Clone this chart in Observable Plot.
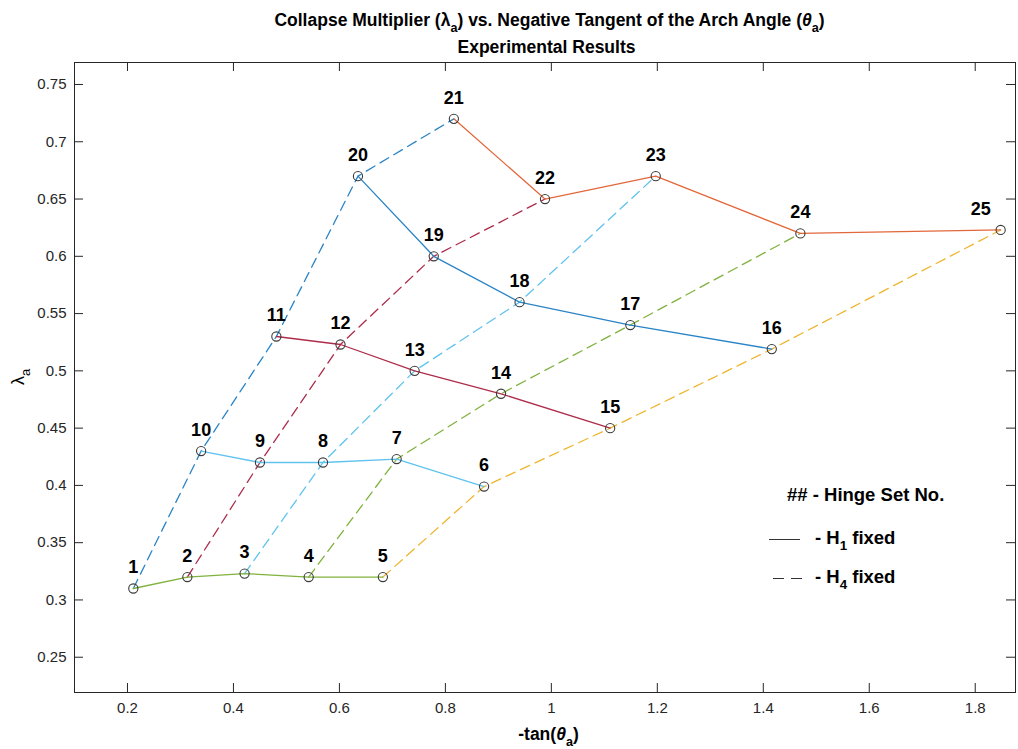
<!DOCTYPE html>
<html>
<head>
<meta charset="utf-8">
<script src="https://cdn.jsdelivr.net/npm/d3@7"></script>
<script src="https://cdn.jsdelivr.net/npm/@observablehq/plot@0.6"></script>
<style>
  body { margin: 0; background: #fff; }
  #chart { width: 1018px; height: 749px; }
</style>
</head>
<body>
<div id="chart"></div>
<script>
// ---- Data ----
const hingeSets = [1, 2, 3, 4, 5, 6, 7, 8, 9, 10, 11, 12, 13, 14, 15, 16, 17, 18, 19, 20, 21, 22, 23, 24, 25];
const negTanTheta = [0.211, 0.313, 0.421, 0.542, 0.682, 0.873, 0.708, 0.569, 0.450, 0.339,
                     0.481, 0.602, 0.742, 0.905, 1.111, 1.416, 1.149, 0.940, 0.778, 0.635,
                     0.816, 0.988, 1.197, 1.470, 1.848];
const lambdaA = [0.310, 0.320, 0.323, 0.320, 0.320, 0.399, 0.423, 0.420, 0.420, 0.430,
                 0.530, 0.523, 0.500, 0.480, 0.450, 0.519, 0.540, 0.560, 0.600, 0.670,
                 0.720, 0.650, 0.670, 0.620, 0.623];

// H1 fixed (solid) series, by hinge set number
const solidSeries = [[1, 2, 3, 4, 5], [10, 9, 8, 7, 6], [11, 12, 13, 14, 15], [20, 19, 18, 17, 16], [21, 22, 23, 24, 25]];
const solidColors = ["#80b23e", "#5fc3ee", "#ad2c4a", "#2a84c6", "#e2673a"];
// H4 fixed (dashed) series
const dashedSeries = [[1, 10, 11, 20, 21], [2, 9, 12, 19, 22], [3, 8, 13, 18, 23], [4, 7, 14, 17, 24], [5, 6, 15, 16, 25]];
const dashedColors = ["#2a84c6", "#ad2c4a", "#5fc3ee", "#80b23e", "#eeb52e"];

const xTicks = [0.2, 0.4, 0.6, 0.8, 1.0, 1.2, 1.4, 1.6, 1.8];
const yTicks = [0.25, 0.3, 0.35, 0.4, 0.45, 0.5, 0.55, 0.6, 0.65, 0.7, 0.75];

// ---- Layout ----
const W = 1018, H = 749, mL = 74, mR = 3, mT = 62, mB = 57;
const fW = W - mL - mR, fH = H - mT - mB;
const FONT = "'Liberation Sans', Arial, Helvetica, sans-serif";
const AX = "#262626";
const TICK = 9;

const pts = hingeSets.map((n, i) => ({n, x: negTanTheta[i], y: lambdaA[i]}));
const byN = new Map(pts.map(p => [p.n, p]));
const fmt = d => String(+d.toFixed(2));

const lineMarks = (groups, colors, dash) =>
  groups.map((g, i) => Plot.line(g.map(n => byN.get(n)), {
    x: "x", y: "y", stroke: colors[i], strokeWidth: 1.3, strokeDasharray: dash
  }));

const svg = Plot.plot({
  width: W, height: H,
  marginLeft: mL, marginRight: mR, marginTop: mT, marginBottom: mB,
  style: {fontFamily: FONT, background: "#fff", color: AX, overflow: "visible"},
  x: {domain: [0.1, 1.876]},
  y: {domain: [0.2192, 0.7692]},
  marks: [
    ...lineMarks(dashedSeries, dashedColors, "10,6"),
    ...lineMarks(solidSeries, solidColors, null),
    Plot.dot(pts, {x: "x", y: "y", r: 4.6, stroke: "#3a3a3a", strokeWidth: 1.1, fill: "none"}),
    Plot.text(pts.filter(p => p.n !== 25), {x: "x", y: "y", text: d => String(d.n), dy: -21,
      fontSize: 18, fontWeight: "bold", fill: "#000"}),
    Plot.text(pts.filter(p => p.n === 25), {x: "x", y: "y", text: d => String(d.n), dy: -21, dx: -20,
      fontSize: 18, fontWeight: "bold", fill: "#000"}),
    Plot.frame({stroke: AX, strokeWidth: 1}),
    Plot.tickX(xTicks, {insetTop: fH - TICK, stroke: AX}),
    Plot.tickX(xTicks, {insetBottom: fH - TICK, stroke: AX}),
    Plot.tickY(yTicks, {insetRight: fW - TICK, stroke: AX}),
    Plot.tickY(yTicks, {insetLeft: fW - TICK, stroke: AX}),
    Plot.axisX({ticks: xTicks, tickSize: 0, tickPadding: 10, tickFormat: fmt, fontSize: 15, label: null}),
    Plot.axisY({ticks: yTicks, tickSize: 0, tickPadding: 8, tickFormat: fmt, fontSize: 15, label: null})
  ]
});

// ---- Rich text annotations (titles, axis labels, legend) ----
// parts: [string, isSubscript, isItalic]
const s = d3.select(svg);
function richText(x, y, parts, {size = 17, weight = "bold", anchor = "middle", rotate = 0, fill = "#000"} = {}) {
  const t = s.append("text")
    .attr("x", x).attr("y", y)
    .attr("text-anchor", anchor)
    .attr("font-family", FONT)
    .attr("font-size", size)
    .attr("font-weight", weight)
    .attr("fill", fill);
  if (rotate) t.attr("transform", `rotate(${rotate},${x},${y})`);
  let shifted = 0;
  parts.forEach(([str, sub, ital]) => {
    const sp = t.append("tspan").text(str);
    if (ital) sp.attr("font-style", "italic");
    if (sub && !shifted) { sp.attr("dy", size * 0.32).attr("font-size", size * 0.72); shifted = 1; }
    else if (!sub && shifted) { sp.attr("dy", -size * 0.32); shifted = 0; }
    else if (sub) sp.attr("font-size", size * 0.72);
  });
  return t;
}
const cx = mL + fW / 2;
richText(cx + 5, 26, [["Collapse Multiplier (λ"], ["a", true], [") vs. Negative Tangent of the Arch Angle ("], ["θ", false, true], ["a", true], [")"]], {size: 17.5});
richText(cx + 2, 53, [["Experimental Results"]], {size: 17.5});
richText(cx + 4, 740, [["-tan("], ["θ", false, true], ["a", true], [")"]], {size: 17.5});
richText(24, mT + fH / 2, [["λ"], ["a", true]], {size: 18, weight: "normal", rotate: -90});

// legend
richText(787, 501, [["## - Hinge Set No."]], {size: 18.5, anchor: "start"});
richText(815, 544, [["- H"], ["1", true], [" fixed"]], {size: 18.5, anchor: "start"});
richText(815, 583, [["- H"], ["4", true], [" fixed"]], {size: 18.5, anchor: "start"});
s.append("line").attr("x1", 769).attr("x2", 800).attr("y1", 539.5).attr("y2", 539.5)
  .attr("stroke", "#333").attr("stroke-width", 1);
s.append("line").attr("x1", 773).attr("x2", 803).attr("y1", 578.5).attr("y2", 578.5)
  .attr("stroke", "#333").attr("stroke-width", 1).attr("stroke-dasharray", "11,7");

document.getElementById("chart").appendChild(svg);
</script>
</body>
</html>
